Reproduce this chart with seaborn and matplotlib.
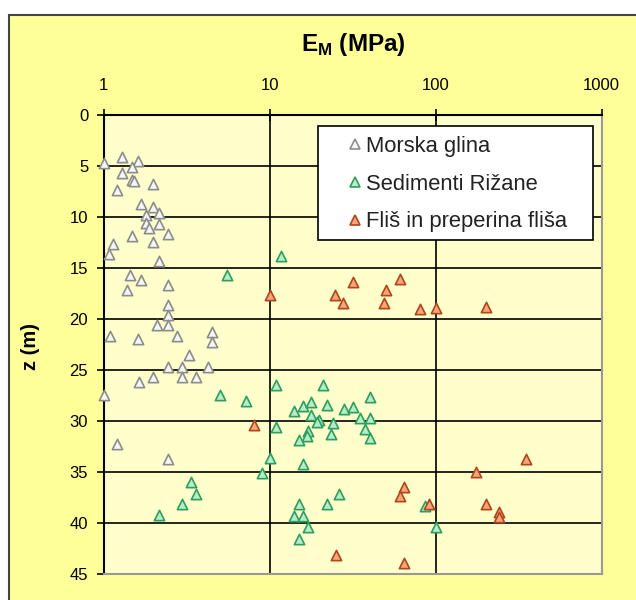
import matplotlib
matplotlib.use("Agg")
import matplotlib.pyplot as plt
import seaborn as sns
import pandas as pd
from matplotlib.lines import Line2D
from matplotlib.patches import Rectangle

# ---- data (E_M in MPa, z in m) ----
glina_E = [1.0, 1.29, 1.61, 1.49, 1.29, 1.49, 1.53, 1.98, 1.20, 1.68, 1.98, 2.17, 1.80, 1.80,
           1.89, 2.17, 2.46, 1.48, 1.98, 1.14, 1.08, 2.17, 1.45, 1.68, 2.46, 1.38, 2.46, 2.46,
           2.09, 2.46, 1.09, 1.61, 2.76, 4.48, 4.48, 3.27, 2.46, 2.98, 4.24, 2.00, 2.98, 3.61,
           1.64, 1.0, 1.20, 2.46]
glina_z = [4.7, 4.1, 4.5, 5.1, 5.7, 6.4, 6.5, 6.8, 7.4, 8.7, 9.0, 9.6, 9.8, 10.6,
           11.1, 10.7, 11.7, 11.9, 12.5, 12.7, 13.6, 14.3, 15.7, 16.2, 16.7, 17.2, 18.6, 19.6,
           20.6, 20.6, 21.7, 22.0, 21.7, 21.3, 22.3, 23.6, 24.7, 24.7, 24.7, 25.7, 25.7, 25.7,
           26.2, 27.5, 32.3, 33.8]

rizane_E = [11.8, 5.52, 11.0, 5.03, 7.2, 21.1, 40.3, 14.1, 16.0, 17.9, 22.3, 28.2, 32.0, 17.9,
            19.9, 19.2, 24.0, 35.1, 40.3, 37.6, 40.3, 17.1, 16.8, 15.1, 23.4, 11.0, 10.0, 8.97,
            15.85, 3.37, 3.61, 2.98, 2.17, 26.2, 22.3, 15.1, 14.0, 16.0, 17.1, 15.1, 86.4, 100.0]
rizane_z = [13.8, 15.7, 26.5, 27.5, 28.1, 26.5, 27.7, 29.1, 28.6, 28.2, 28.5, 28.9, 28.7, 29.4,
            29.9, 30.1, 30.2, 29.7, 29.7, 30.8, 31.7, 31.0, 31.5, 31.9, 31.3, 30.6, 33.7, 35.1,
            34.3, 36.0, 37.2, 38.2, 39.3, 37.2, 38.2, 38.2, 39.4, 39.4, 40.4, 41.6, 38.4, 40.4]

flis_E = [10.0, 32.0, 24.8, 27.6, 50.1, 61.1, 48.9, 80.7, 100.0, 201.0, 8.1, 349.0, 175.0,
          64.9, 61.0, 91.4, 201.0, 242.0, 242.0, 25.0, 64.9]
flis_z = [17.7, 16.4, 17.7, 18.5, 17.2, 16.1, 18.5, 19.0, 18.9, 18.8, 30.4, 33.8, 35.0,
          36.5, 37.4, 38.2, 38.2, 39.0, 39.5, 43.2, 44.0]

labels = ["Morska glina", "Sedimenti Rižane", "Fliš in preperina fliša"]
x_ticks = [1, 10, 100, 1000]
y_ticks = [0, 5, 10, 15, 20, 25, 30, 35, 40, 45]

styles = {
    labels[0]: dict(face="#F6F6F6", edge="#8C8C8C"),
    labels[1]: dict(face="#B8EBC8", edge="#2E9E5E"),
    labels[2]: dict(face="#F5A77A", edge="#B0441A"),
}

df = pd.concat([
    pd.DataFrame({"E": glina_E, "z": glina_z, "g": labels[0]}),
    pd.DataFrame({"E": rizane_E, "z": rizane_z, "g": labels[1]}),
    pd.DataFrame({"E": flis_E, "z": flis_z, "g": labels[2]}),
])

sns.set_theme(style="white")
plt.rcParams["font.family"] = ["Liberation Sans", "DejaVu Sans"]
plt.rcParams["mathtext.fontset"] = "custom"
plt.rcParams["mathtext.rm"] = "Liberation Sans:bold"
plt.rcParams["mathtext.bf"] = "Liberation Sans:bold"
plt.rcParams["text.color"] = "black"
plt.rcParams["xtick.color"] = "black"
plt.rcParams["ytick.color"] = "black"

W, H = 636, 600
fig = plt.figure(figsize=(6.36, 6.0), dpi=100, facecolor="white")
bg = Rectangle((9 / W, -0.02), 1.0, 1 - 15 / H + 0.02, transform=fig.transFigure,
               facecolor="#FFFF99", edgecolor="#444444", linewidth=1.5, zorder=-10)
fig.patches.append(bg)

ax = fig.add_axes([103.5 / W, 1 - 573.5 / H, (601.5 - 103.5) / W, (573.5 - 115) / H])
ax.set_zorder(1)
ax.set_facecolor("#FFFFCC")

for lab in labels:
    sub = df[df["g"] == lab]
    st = styles[lab]
    sns.scatterplot(data=sub, x="E", y="z", ax=ax, marker="^", s=55,
                    color=st["face"], edgecolor=st["edge"], linewidth=1.2, zorder=3,
                    legend=False, clip_on=False)

ax.set_xscale("log")
ax.set_xlim(1, 1000)
ax.set_ylim(45, 0)
ax.set_xticks(x_ticks)
ax.set_xticklabels([str(t) for t in x_ticks])
ax.set_yticks(y_ticks)
ax.set_yticklabels([str(t) for t in y_ticks])
ax.xaxis.set_minor_locator(matplotlib.ticker.NullLocator())
ax.xaxis.tick_top()
ax.tick_params(axis="x", which="major", top=True, bottom=False, direction="inout", length=9,
               width=1.2, color="black", labelsize=12, pad=11, labelcolor="black")
ax.tick_params(axis="y", which="major", left=True, direction="out", length=5, width=1.2,
               color="black", labelsize=12, pad=6, labelcolor="black")
ax.set_xlabel("")
ax.set_ylabel("")

ax.grid(True, color="black", linewidth=1.2)
ax.set_axisbelow(True)
for t, v in zip(ax.yaxis.get_major_ticks(), y_ticks):
    if v in (0, 45):
        t.gridline.set_visible(False)
for t, v in zip(ax.xaxis.get_major_ticks(), x_ticks):
    if v in (1, 1000):
        t.gridline.set_visible(False)

for side in ("left", "top"):
    ax.spines[side].set_color("black")
    ax.spines[side].set_linewidth(1.5)
for side in ("right", "bottom"):
    ax.spines[side].set_color("#999999")
    ax.spines[side].set_linewidth(1.5)
    ax.spines[side].set_visible(True)

fig.text(353 / W, 1 - 51 / H, r"E$_{\mathbf{M}}$ (MPa)", ha="center", va="baseline",
         fontsize=17.5, fontweight="bold", color="black")
fig.text(30 / W, 1 - 347 / H, "z (m)", ha="center", va="center", rotation=90,
         fontsize=14.5, fontweight="bold", color="black")

# legend frame (Excel-style box) and entries
frame = Rectangle((318 / W, 1 - 240 / H), (593 - 318) / W, (240 - 126) / H,
                  transform=fig.transFigure, facecolor="white", edgecolor="black",
                  linewidth=1.2, zorder=4)
ax.add_artist(frame)
frame.set_clip_on(False)

fs = 15.8
px_em = fs * 100 / 72
handles = [Line2D([], [], linestyle="none", marker="^", markersize=6.5,
                  markerfacecolor=styles[l]["face"], markeredgecolor=styles[l]["edge"],
                  markeredgewidth=1.2) for l in labels]
leg = ax.legend(handles, labels, loc="upper left",
                bbox_to_anchor=(340 / W, 1 - 136 / H), bbox_transform=fig.transFigure,
                borderaxespad=0, borderpad=0, frameon=False, fontsize=fs,
                handlelength=30 / px_em, handletextpad=-4 / px_em, labelspacing=0.76)
leg.set_zorder(5)
for txt in leg.get_texts():
    txt.set_color("#222222")

fig.savefig("out.png", dpi=100, facecolor=fig.get_facecolor())
